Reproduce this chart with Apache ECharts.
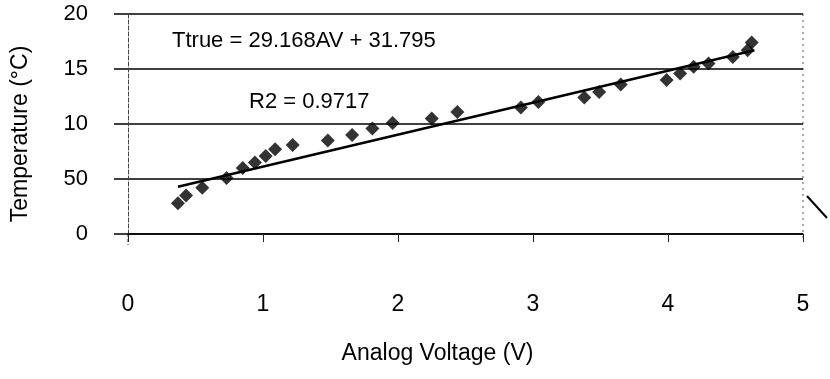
<!DOCTYPE html>
<html style="height: 100%">
<head>
<meta charset="utf-8">
<script src="https://cdn.jsdelivr.net/npm/echarts@6/dist/echarts.min.js"></script>
</head>
<body style="width: 100%; height: 100%; margin: 0; background: #fff">
<div id="main" style="width: 830px; height: 379px;"></div>
<script type="text/javascript">
var voltage = [0.37, 0.43, 0.55, 0.73, 0.85, 0.94, 1.02, 1.09, 1.22, 1.48, 1.66, 1.81, 1.96,
               2.25, 2.44, 2.91, 3.04, 3.38, 3.49, 3.65, 3.99, 4.09, 4.19, 4.30, 4.48, 4.59, 4.62];
var temperature = [28, 35, 42, 51, 60, 65, 71, 77, 81, 85, 90, 96, 101,
                   105, 111, 115, 120, 124, 129, 136, 140, 146, 152, 155, 161, 167, 174];
// trendline ends
var trendV = [0.37, 4.64];
var trendT = [43, 167];
var yTickLabels = {0: '0', 50: '50', 100: '10', 150: '15', 200: '20'};
var fitText = 'Ttrue = 29.168AV + 31.795';
var r2Text = 'R2 = 0.9717';

var pts = voltage.map(function (v, i) { return [v, temperature[i]]; });
var trend = trendV.map(function (v, i) { return [v, trendT[i]]; });

var font = 'Liberation Sans, Arial, sans-serif';
var myChart = echarts.init(document.getElementById('main'));
var option = {
    animation: false,
    backgroundColor: '#fff',
    grid: {left: 128, right: 27, top: 14, bottom: 145},
    xAxis: {
        type: 'value', min: 0, max: 5, interval: 1,
        name: 'Analog Voltage (V)', nameLocation: 'middle', nameGap: 108,
        nameTextStyle: {fontFamily: font, fontSize: 23, color: '#000', padding: [0, 56, 0, 0]},
        axisLine: {show: true, onZero: false, lineStyle: {color: '#000', width: 1.5}},
        axisTick: {show: true, length: 8, lineStyle: {color: '#222', width: 1}},
        axisLabel: {margin: 59, fontFamily: font, fontSize: 23, color: '#000'},
        splitLine: {show: false}
    },
    yAxis: {
        type: 'value', min: 0, max: 200, interval: 50,
        name: 'Temperature (°C)', nameLocation: 'middle', nameGap: 96,
        nameTextStyle: {fontFamily: font, fontSize: 23, color: '#000', padding: [0, 20, 0, 0]},
        axisLine: {show: true, lineStyle: {color: '#444', width: 1, type: 'dashed'}},
        axisTick: {show: true, length: 14, lineStyle: {color: '#000', width: 1.5}},
        axisLabel: {margin: 40, fontFamily: font, fontSize: 22, color: '#000',
            formatter: function (v) { return yTickLabels[v]; }},
        splitLine: {show: true, lineStyle: {color: '#000', width: 1.5}}
    },
    series: [
        {
            type: 'scatter', data: pts, symbol: 'diamond', symbolSize: 14,
            itemStyle: {color: '#000'}, z: 3
        },
        {
            type: 'line', data: trend, symbol: 'none',
            lineStyle: {color: '#000', width: 2.5}, z: 4
        }
    ],
    graphic: [
        {type: 'line', shape: {x1: 803, y1: 14, x2: 803, y2: 240},
         style: {stroke: '#555', lineWidth: 1, lineDash: [2, 4]}},
        {type: 'line', shape: {x1: 128, y1: 234, x2: 128, y2: 245},
         style: {stroke: '#333', lineWidth: 1, lineDash: [3, 2]}},
        {type: 'line', shape: {x1: 807, y1: 196, x2: 827, y2: 218},
         style: {stroke: '#000', lineWidth: 2}},
        {type: 'text', left: 172, top: 30,
         style: {text: fitText, font: '22px ' + font, fill: '#000'}},
        {type: 'text', left: 249, top: 91,
         style: {text: r2Text, font: '22px ' + font, fill: '#000'}}
    ]
};
myChart.setOption(option);
</script>
</body>
</html>
